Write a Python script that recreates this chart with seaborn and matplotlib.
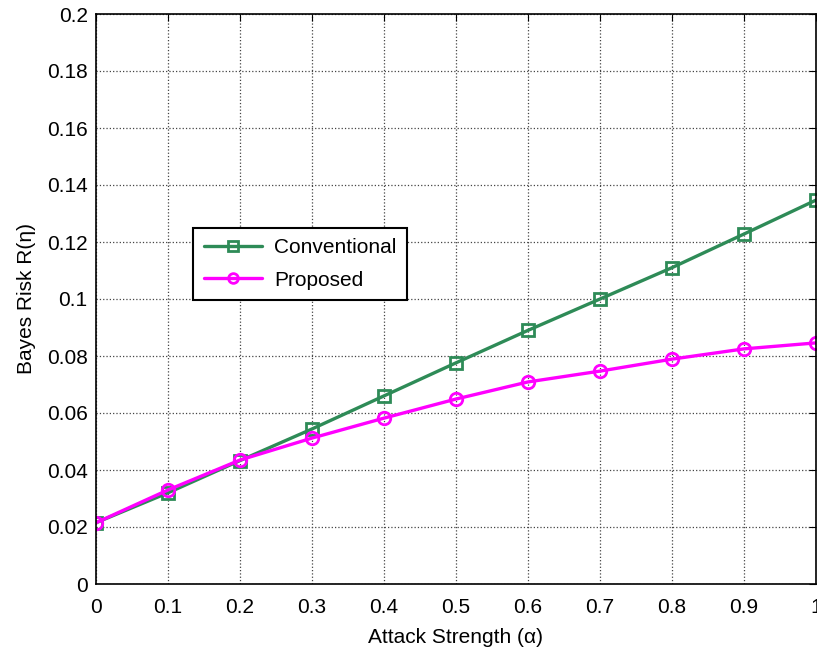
import pandas as pd
import numpy as np
import matplotlib.pyplot as plt
import seaborn as sns

# data
alpha = [0, 0.1, 0.2, 0.3, 0.4, 0.5, 0.6, 0.7, 0.8, 0.9, 1.0]
conventional = [0.0215, 0.0320, 0.0433, 0.0544, 0.0660, 0.0776, 0.0890, 0.1000, 0.1110, 0.1228, 0.1347]
proposed = [0.0215, 0.0330, 0.0435, 0.0512, 0.0582, 0.0649, 0.0709, 0.0747, 0.0789, 0.0825, 0.0846]
x_ticks = [0, 0.1, 0.2, 0.3, 0.4, 0.5, 0.6, 0.7, 0.8, 0.9, 1]
x_labels = ['0', '0.1', '0.2', '0.3', '0.4', '0.5', '0.6', '0.7', '0.8', '0.9', '1']
y_ticks = [0, 0.02, 0.04, 0.06, 0.08, 0.1, 0.12, 0.14, 0.16, 0.18, 0.2]
y_labels = ['0', '0.02', '0.04', '0.06', '0.08', '0.1', '0.12', '0.14', '0.16', '0.18', '0.2']

df = pd.DataFrame({
    'alpha': alpha * 2,
    'risk': conventional + proposed,
    'Method': ['Conventional'] * len(alpha) + ['Proposed'] * len(alpha),
})

sns.set_style('white')
plt.rcParams['font.family'] = ['Liberation Sans', 'DejaVu Sans']
plt.rcParams['text.color'] = 'black'
plt.rcParams['axes.labelcolor'] = 'black'
plt.rcParams['xtick.color'] = 'black'
plt.rcParams['ytick.color'] = 'black'
fs = 15

fig = plt.figure(figsize=(8.17, 6.47), dpi=100)
ax = fig.add_axes([96 / 817, 1 - 584 / 647, 720 / 817, 570 / 647])

palette = {'Conventional': '#2E8B57', 'Proposed': '#FF00FF'}
sns.lineplot(data=df, x='alpha', y='risk', hue='Method', style='Method',
             palette=palette, markers={'Conventional': 's', 'Proposed': 'o'},
             dashes=False, linewidth=2.4, ax=ax, legend=False)

# hollow markers in the line colour, like the MATLAB original
for ln in ax.get_lines():
    c = ln.get_color()
    ln.set_markerfacecolor('none')
    ln.set_markeredgecolor(c)
    ln.set_markeredgewidth(2)
    ln.set_markersize(9)

ax.set_xlim(0, 1)
ax.set_ylim(0, 0.2)
ax.set_xticks(x_ticks)
ax.set_xticklabels(x_labels)
ax.set_yticks(y_ticks)
ax.set_yticklabels(y_labels)
ax.set_xlabel('Attack Strength (\u03b1)', fontsize=fs, labelpad=8)
ax.set_ylabel('Bayes Risk R(\u03b7)', fontsize=fs, labelpad=8)
ax.grid(True, linestyle=':', color='#444444', linewidth=0.9)
ax.tick_params(direction='in', top=True, right=True, length=5, labelsize=fs)
ax.tick_params(axis='x', pad=10)
ax.tick_params(axis='y', pad=6)
for s in ax.spines.values():
    s.set_color('black')
    s.set_linewidth(1.2)

lines = ax.get_lines()
leg = ax.legend(lines[:2], ['Conventional', 'Proposed'], loc='upper left',
                bbox_to_anchor=(0.135, 0.625), borderaxespad=0, frameon=True,
                fancybox=False, edgecolor='black', fontsize=fs, handlelength=2.8,
                framealpha=1, borderpad=0.5, labelspacing=0.65, handletextpad=0.6)
leg.get_frame().set_linewidth(1.5)
for h in leg.legend_handles:
    h.set_markersize(7)

fig.savefig('out.png', dpi=100)
